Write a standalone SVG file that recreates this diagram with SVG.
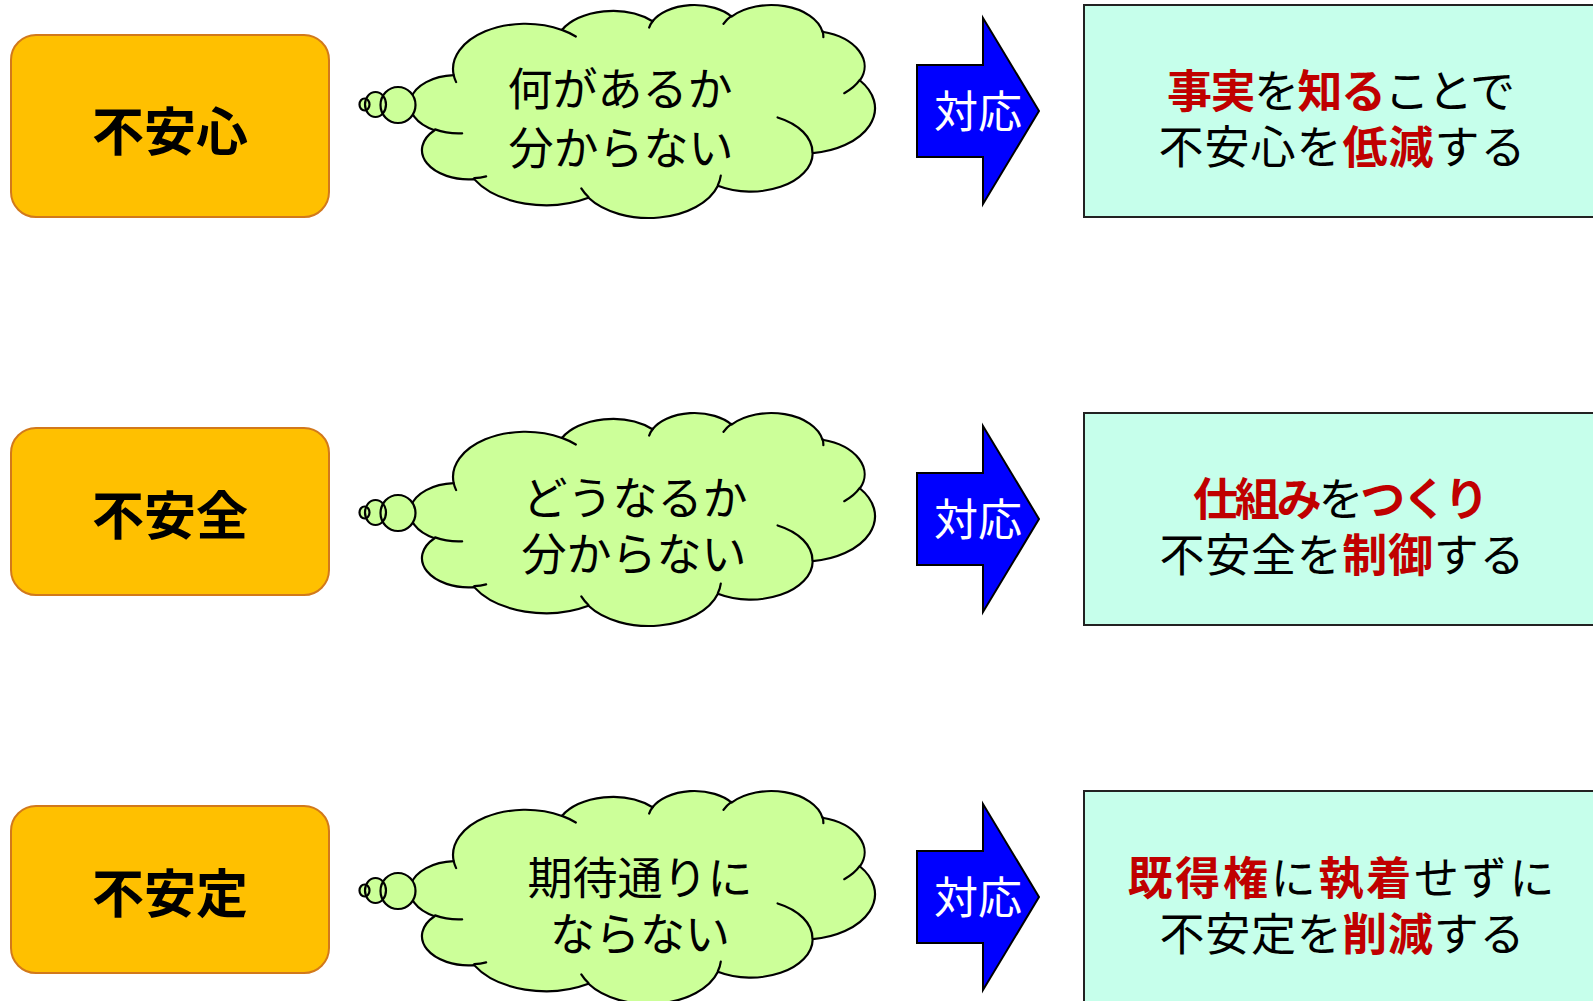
<svg xmlns="http://www.w3.org/2000/svg" xmlns:xlink="http://www.w3.org/1999/xlink" width="1593" height="1001" viewBox="0 0 1593 1001">
<style>
  text { font-family: "Liberation Sans", "Noto Sans CJK JP", sans-serif; text-anchor: middle; }
  .worry { fill: #FFC000; stroke: #D2791B; stroke-width: 2; }
  .worry-t { font-size: 52px; font-weight: bold; fill: #000; }
  .cloud { fill: #CCFF99; stroke: #000; stroke-width: 2.2; stroke-linejoin: round; }
  .cloud-inner { fill: none; stroke: #000; stroke-width: 2.2; stroke-linecap: round; }
  .bub-fill { fill: #CCFF99; stroke: none; }
  .bub-line { fill: none; stroke: #000; stroke-width: 2.2; }
  .cloud-t { font-size: 45px; fill: #000; }
  .arrow { fill: #0000FF; stroke: #000; stroke-width: 2; stroke-linejoin: miter; }
  .arrow-t { font-size: 44px; fill: #FFF; }
  .answer { fill: #C6FFEB; stroke: #222; stroke-width: 2; }
  .answer-t { font-size: 45px; fill: #000; }
  .hl { fill: #C00000; font-weight: bold; }
</style>
<defs>
  <path id="cloud-shape" class="cloud" d="M41.79,70.83 A72.36,45.29 0 0 1 150.06,25.64 A57.14,35.82 0 0 1 240.61,16.91 A46.77,29.30 0 0 1 319.66,12.22 A52.04,32.50 0 0 1 410.58,27.48 A57.14,35.85 0 0 1 448.09,76.19 A72.59,45.44 0 0 1 400.79,148.86 A61.99,38.77 0 0 1 305.98,181.44 A72.35,45.42 0 0 1 176.59,193.52 A82.72,51.96 0 0 1 62.20,174.82 A46.72,29.17 0 0 1 22.65,125.92 A46.56,29.30 0 0 1 41.79,70.83 Z"/>
  <path id="cloud-arcs" class="cloud-inner" d="M50.29,129.02 A46.56,29.30 0 0 1 23.14,125.09 M74.23,172.01 A46.72,29.17 0 0 1 62.36,173.89 M176.56,192.66 A72.35,45.42 0 0 1 169.40,184.08 M308.88,171.28 A72.35,45.42 0 0 1 306.02,180.69 M365.69,113.13 A61.99,38.77 0 0 1 400.53,148.30 M447.87,75.68 A57.14,35.85 0 0 1 432.35,88.86 M410.64,26.74 A52.04,32.50 0 0 1 411.46,32.97 M311.57,19.48 A52.04,32.50 0 0 1 319.52,11.53 M237.24,23.26 A46.77,29.30 0 0 1 241.09,16.41 M150.01,25.59 A72.36,45.29 0 0 1 163.93,32.23 M44.22,77.82 A72.36,45.29 0 0 1 41.79,70.83"/>
  <g id="bubbles">
    <ellipse class="bub-fill" cx="-47.4" cy="100.2" rx="5" ry="6"/>
    <ellipse class="bub-fill" cx="-36.4" cy="100.2" rx="10.5" ry="12.5"/>
    <ellipse class="bub-fill" cx="-13.9" cy="100.7" rx="17.5" ry="18"/>
    <ellipse class="bub-line" cx="-47.4" cy="100.2" rx="5" ry="6"/>
    <ellipse class="bub-line" cx="-36.4" cy="100.2" rx="10.5" ry="12.5"/>
    <ellipse class="bub-line" cx="-13.9" cy="100.7" rx="17.5" ry="18"/>
  </g>
  <polygon id="arrow-shape" class="arrow" points="917,65 983,65 983,18 1039,111 983,204 983,157 917,157"/>
</defs>

<!-- Row 1 -->
<g id="worry1">
  <rect class="worry" x="11" y="35" width="318" height="182" rx="25" ry="25"/>
  <text class="worry-t" x="170" y="151">不安心</text>
</g>
<g id="thought1">
  <g transform="translate(411.9,4.3)">
    <use xlink:href="#cloud-shape"/>
    <use xlink:href="#cloud-arcs"/>
    <use xlink:href="#bubbles"/>
  </g>
  <text class="cloud-t" x="620" y="106">何があるか</text>
  <text class="cloud-t" x="621" y="164.5">分からない</text>
</g>
<g id="answer1">
  <rect class="answer" x="1084" y="5" width="530" height="212"/>
  <text class="answer-t" x="1341" y="108" textLength="348" lengthAdjust="spacing"><tspan class="hl">事実</tspan>を<tspan class="hl">知る</tspan>ことで</text>
  <text class="answer-t" x="1342" y="164" textLength="367" lengthAdjust="spacing">不安心を<tspan class="hl">低減</tspan>する</text>
</g>

<!-- Row 2 -->
<g id="worry2">
  <rect class="worry" x="11" y="428" width="318" height="167" rx="25" ry="25"/>
  <text class="worry-t" x="170" y="535">不安全</text>
</g>
<g id="thought2">
  <g transform="translate(411.9,412.3)">
    <use xlink:href="#cloud-shape"/>
    <use xlink:href="#cloud-arcs"/>
    <use xlink:href="#bubbles"/>
  </g>
  <text class="cloud-t" x="635" y="514.5">どうなるか</text>
  <text class="cloud-t" x="634" y="571">分からない</text>
</g>
<g id="answer2">
  <rect class="answer" x="1084" y="413" width="530" height="212"/>
  <text class="answer-t" x="1341" y="515.5" textLength="296" lengthAdjust="spacing"><tspan class="hl">仕組み</tspan>を<tspan class="hl">つくり</tspan></text>
  <text class="answer-t" x="1342" y="572" textLength="365" lengthAdjust="spacing">不安全を<tspan class="hl">制御</tspan>する</text>
</g>

<!-- Row 3 -->
<g id="worry3">
  <rect class="worry" x="11" y="806" width="318" height="167" rx="25" ry="25"/>
  <text class="worry-t" x="170" y="912.5">不安定</text>
</g>
<g id="thought3">
  <g transform="translate(411.9,790.3)">
    <use xlink:href="#cloud-shape"/>
    <use xlink:href="#cloud-arcs"/>
    <use xlink:href="#bubbles"/>
  </g>
  <text class="cloud-t" x="640" y="895">期待通りに</text>
  <text class="cloud-t" x="640" y="951">ならない</text>
</g>
<g id="answer3">
  <rect class="answer" x="1084" y="791" width="530" height="230"/>
  <text class="answer-t" x="1341" y="894.5" textLength="427" lengthAdjust="spacing"><tspan class="hl">既得権</tspan>に<tspan class="hl">執着</tspan>せずに</text>
  <text class="answer-t" x="1342" y="951" textLength="365" lengthAdjust="spacing">不安定を<tspan class="hl">削減</tspan>する</text>
</g>

<!-- Connectors: block arrows -->
<g id="connectors">
  <g id="arrow1">
    <use xlink:href="#arrow-shape"/>
    <text class="arrow-t" x="978" y="128">対応</text>
  </g>
  <g id="arrow2">
    <use xlink:href="#arrow-shape" transform="translate(0,408)"/>
    <text class="arrow-t" x="978" y="536">対応</text>
  </g>
  <g id="arrow3">
    <use xlink:href="#arrow-shape" transform="translate(0,786)"/>
    <text class="arrow-t" x="978" y="914">対応</text>
  </g>
</g>
</svg>
